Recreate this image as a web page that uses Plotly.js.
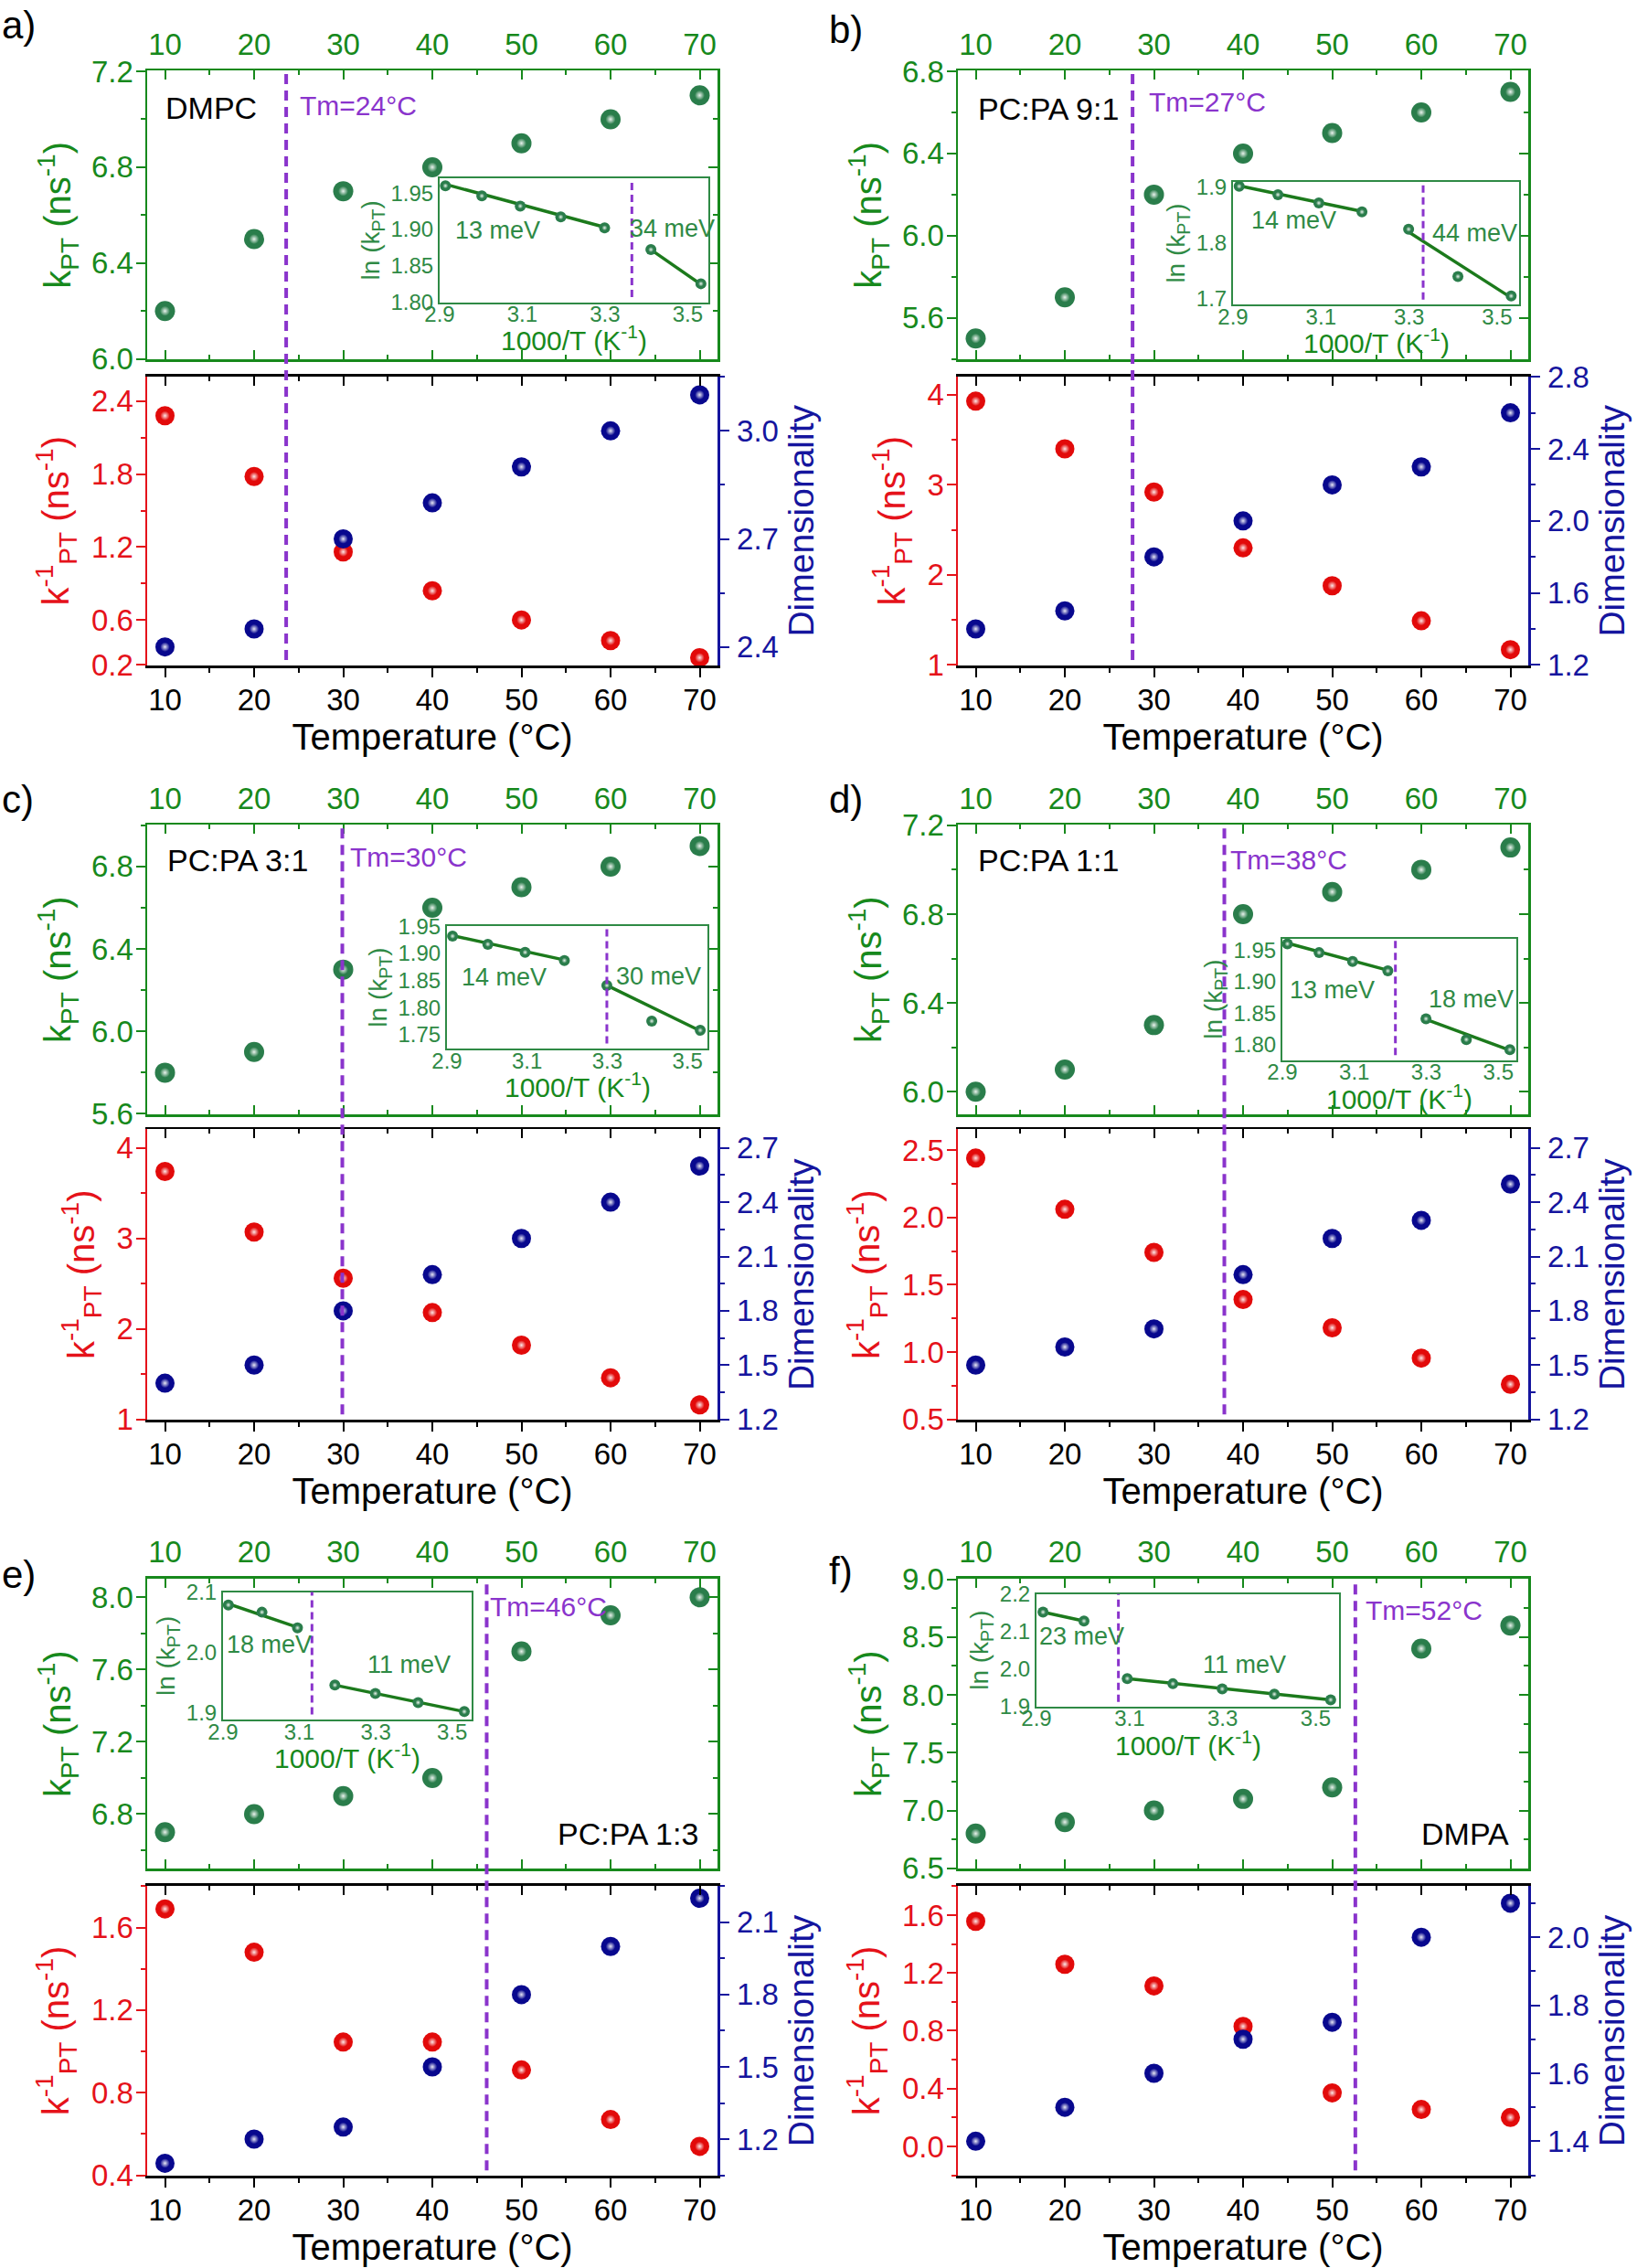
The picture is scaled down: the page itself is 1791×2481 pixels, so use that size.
<!DOCTYPE html>
<html><head><meta charset="utf-8">
<script src="https://cdn.plot.ly/plotly-3.0.1.min.js"></script>
<style>html,body{margin:0;padding:0;background:#fff}</style>
</head><body>
<div id="chart" style="width:1791px;height:2481px"></div>
<script>
// ---------------- DATA ----------------
const temperature = [10, 20, 30, 40, 50, 60, 70];
const panelLetters = ['a)', 'b)', 'c)', 'd)', 'e)', 'f)'];
const sampleNames = ['DMPC', 'PC:PA 9:1', 'PC:PA 3:1', 'PC:PA 1:1', 'PC:PA 1:3', 'DMPA'];
const tmValues = [24, 27, 30, 38, 46, 52];
const tmLineX = [23.6, 27.6, 29.9, 37.9, 46.1, 52.6];

const kptA = [6.2, 6.5, 6.7, 6.8, 6.9, 7.0, 7.1];
const kptB = [5.5, 5.7, 6.2, 6.4, 6.5, 6.6, 6.7];
const kptC = [5.8, 5.9, 6.3, 6.6, 6.7, 6.8, 6.9];
const kptD = [6.0, 6.1, 6.3, 6.8, 6.9, 7.0, 7.1];
const kptE = [6.7, 6.8, 6.9, 7.0, 7.7, 7.9, 8.0];
const kptF = [6.8, 6.9, 7.0, 7.1, 7.2, 8.4, 8.6];

const kinvA = [2.28, 1.78, 1.16, 0.84, 0.60, 0.43, 0.29];
const kinvB = [3.93, 3.40, 2.92, 2.30, 1.88, 1.49, 1.17];
const kinvC = [3.74, 3.07, 2.56, 2.18, 1.82, 1.46, 1.16];
const kinvD = [2.44, 2.06, 1.74, 1.39, 1.18, 0.955, 0.76];
const kinvE = [1.69, 1.48, 1.045, 1.045, 0.91, 0.67, 0.54];
const kinvF = [1.557, 1.26, 1.11, 0.83, 0.37, 0.255, 0.20];

const dimA = [2.40, 2.45, 2.70, 2.80, 2.90, 3.00, 3.10];
const dimB = [1.40, 1.50, 1.80, 2.00, 2.20, 2.30, 2.60];
const dimC = [1.40, 1.50, 1.80, 2.00, 2.20, 2.40, 2.60];
const dimD = [1.50, 1.60, 1.70, 2.00, 2.20, 2.30, 2.50];
const dimE = [1.10, 1.20, 1.25, 1.50, 1.80, 2.00, 2.20];
const dimF = [1.40, 1.50, 1.60, 1.70, 1.75, 2.00, 2.10];

// inset: 1000/T (K^-1) and ln(kPT)
const invT = [3.532, 3.411, 3.299, 3.193, 3.095, 3.002, 2.914];
const lnkA = [1.825, 1.872, 1.902, 1.917, 1.932, 1.946, 1.960];
const lnkB = [1.705, 1.740, 1.825, 1.856, 1.872, 1.887, 1.902];
const lnkC = [1.758, 1.775, 1.841, 1.887, 1.902, 1.917, 1.932];
const lnkD = [1.792, 1.808, 1.841, 1.917, 1.932, 1.946, 1.960];
const lnkE = [1.902, 1.917, 1.932, 1.946, 2.041, 2.067, 2.079];
const lnkF = [1.917, 1.932, 1.946, 1.960, 1.974, 2.128, 2.152];
const tmInset = [3.365, 3.332, 3.299, 3.214, 3.133, 3.076];

// Arrhenius fit segments (warm = above Tm, cold = below Tm)
const fitWarmX = [[2.914, 3.299], [2.914, 3.193], [2.914, 3.193], [2.914, 3.193], [2.914, 3.095], [2.914, 3.002]];
const fitWarmY = [[1.962, 1.903], [1.903, 1.857], [1.933, 1.888], [1.961, 1.918], [2.081, 2.042], [2.152, 2.128]];
const fitColdX = [[3.411, 3.532], [3.299, 3.532], [3.299, 3.532], [3.299, 3.532], [3.193, 3.532], [3.095, 3.532]];
const fitColdY = [[1.872, 1.824], [1.820, 1.702], [1.841, 1.757], [1.840, 1.791], [1.946, 1.902], [1.974, 1.917]];
const energyWarm = ['13 meV', '14 meV', '14 meV', '13 meV', '18 meV', '23 meV'];
const energyCold = ['34 meV', '44 meV', '30 meV', '18 meV', '11 meV', '11 meV'];

const kptAll = [kptA, kptB, kptC, kptD, kptE, kptF];
const kinvAll = [kinvA, kinvB, kinvC, kinvD, kinvE, kinvF];
const dimAll = [dimA, dimB, dimC, dimD, dimE, dimF];
const lnkAll = [lnkA, lnkB, lnkC, lnkD, lnkE, lnkF];

// axis ranges / ticks
const topRanges = [[6.0, 7.2], [5.4, 6.8], [5.6, 7.0], [5.9, 7.2], [6.5, 8.1], [6.5, 9.0]];
const topDtick = [0.4, 0.4, 0.4, 0.4, 0.4, 0.5];
const botRanges = [[0.23, 2.6], [1, 4.2], [1, 4.2], [0.5, 2.65], [0.4, 1.8], [-0.2, 1.8]];
const botDtick = [0.6, 1, 1, 0.5, 0.4, 0.4];
const botFormat = ['.1f', 'd', 'd', '.1f', '.1f', '.1f'];
const botTickValsA = [0.23, 0.6, 1.2, 1.8, 2.4];
const botTickTextA = ['0.2', '0.6', '1.2', '1.8', '2.4'];
const dimRanges = [[2.35, 3.15], [1.2, 2.8], [1.2, 2.8], [1.2, 2.8], [1.05, 2.25], [1.3, 2.15]];
const dimDtick = [0.3, 0.4, 0.3, 0.3, 0.3, 0.2];
const insetXRange = [2.9, 3.55];
const insetYRanges = [[1.80, 1.97], [1.69, 1.91], [1.725, 1.95], [1.776, 1.968], [1.889, 2.1], [1.9, 2.2]];
const insetYDtick = [0.05, 0.1, 0.05, 0.05, 0.1, 0.1];
const insetYFormat = ['.2f', '.1f', '.2f', '.2f', '.1f', '.1f'];

// ---------------- GEOMETRY (px) ----------------
const W = 1791, H = 2481;
const cols = [[161, 785], [1048, 1672]];
const rows = [[77.4, 393.3, 411.6, 728], [902.2, 1219.1, 1235.3, 1553.3], [1726.9, 2044.4, 2062.7, 2380.2]];
const insetBox = [[481, 775, 195, 330.5], [1349, 1662, 198.7, 333.2], [489, 774, 1013.1, 1146.9],
                  [1403, 1659, 1026.7, 1159.5], [244, 515.5, 1741.6, 1881.2], [1134, 1465, 1743.7, 1866.6]];
const letterPos = [[0, 28], [905, 32], [0, 874], [905, 874], [0, 1722], [905, 1718]];
const namePos = [[179, 118, 'left'], [1068, 119, 'left'], [181, 941, 'left'], [1068, 941, 'left'], [766, 2006, 'right'], [1653, 2006, 'right']];
const tmPos = [[326, 115], [1255, 112], [381, 937], [1344, 940], [534, 1757], [1492, 1761]];
const eWarmPos = [[496, 252], [1367, 241], [503, 1069], [1409, 1083], [246, 1799], [1135, 1790]];
const eColdPos = [[687, 250], [1565, 255], [672, 1068], [1561, 1093], [400, 1821], [1314, 1821]];

const px = v => v / W, py = v => 1 - v / H;

const FONT = 'Liberation Sans, Arial, sans-serif';
const GREEN = '#17891c', RED = '#e5121a', BLUE = '#15159e', PURPLE = '#8a34cc', IGREEN = '#2f8a45';

function pad(r) { const e = (r[1] - r[0]) * 0.002; return [r[0] - e, r[1] + e]; }

const data = [], shapes = [], annotations = [];
const layout = {
  width: W, height: H, margin: {l: 0, r: 0, t: 0, b: 0},
  paper_bgcolor: '#fff', plot_bgcolor: 'rgba(0,0,0,0)', showlegend: false,
  font: {family: FONT, size: 30, color: '#000'}
};

function minorOf(d, color, ticks, len) {
  return {dtick: d, ticks: ticks, ticklen: len || 5, tickwidth: 2, tickcolor: color};
}
// sphere-like markers: solid ball + soft specular highlight on the same points
function balls(x, y, xa, ya, size, color) {
  data.push({type: 'scatter', mode: 'markers', x: x, y: y, xaxis: xa, yaxis: ya,
    marker: {size: size, color: color, line: {width: 0}}, cliponaxis: false});
  data.push({type: 'scatter', mode: 'markers', x: x, y: y, xaxis: xa, yaxis: ya,
    marker: {size: size * 0.5, color: 'rgba(255,255,255,0)',
             gradient: {type: 'radial', color: 'rgba(255,255,255,0.9)'}, line: {width: 0}},
    cliponaxis: false, hoverinfo: 'skip'});
}

for (let i = 0; i < 6; i++) {
  const c = cols[i % 2], r = rows[Math.floor(i / 2)];
  const xi = i * 4, yi = i * 5;
  const xTop = 'x' + (xi + 1), xBot = 'x' + (xi + 2), xIn = 'x' + (xi + 3), xBotT = 'x' + (xi + 4);
  const yTop = 'y' + (yi + 1), yBot = 'y' + (yi + 2), yDim = 'y' + (yi + 3), yIn = 'y' + (yi + 4), yTopR = 'y' + (yi + 5);
  const ax = n => n === 'x1' ? 'xaxis' : 'xaxis' + n.slice(1);
  const ay = n => n === 'y1' ? 'yaxis' : 'yaxis' + n.slice(1);
  const xd = [px(c[0]), px(c[1])];

  // ---- top subplot (green) ----
  layout[ax(xTop)] = {
    domain: xd, anchor: yTop, side: 'top', range: [8, 72], dtick: 10, tick0: 0,
    ticks: 'inside', ticklen: 10, tickwidth: 2, tickcolor: GREEN,
    minor: minorOf(5, GREEN, 'inside'),
    showline: true, linecolor: GREEN, linewidth: 2.5, mirror: 'ticks',
    tickfont: {size: 33, color: GREEN, family: FONT}, ticklabelstandoff: 2,
    showgrid: false, zeroline: false
  };
  layout[ay(yTop)] = {
    domain: [py(r[1]), py(r[0])], anchor: xTop, range: pad(topRanges[i]), dtick: topDtick[i], tick0: 0,
    tickformat: '.1f', ticks: 'outside', ticklen: 10, tickwidth: 2, tickcolor: GREEN,
    minor: minorOf(topDtick[i] / 2, GREEN, 'outside'),
    showline: true, linecolor: GREEN, linewidth: 2.5, mirror: false,
    tickfont: {size: 33, color: GREEN, family: FONT}, ticklabelstandoff: -4,
    title: {text: 'k<sub>PT</sub> (ns<sup>-1</sup>)', font: {size: 40, color: GREEN, family: FONT}, standoff: 10},
    showgrid: false, zeroline: false
  };
  layout[ay(yTopR)] = {
    overlaying: yTop, side: 'right', anchor: xTop, range: pad(topRanges[i]), dtick: topDtick[i], tick0: 0,
    ticks: 'inside', ticklen: 10, tickwidth: 2, tickcolor: GREEN, showticklabels: false,
    minor: minorOf(topDtick[i] / 2, GREEN, 'inside'),
    showline: true, linecolor: GREEN, linewidth: 2.5, showgrid: false, zeroline: false
  };
  // ---- bottom subplot (red / blue) ----
  layout[ax(xBot)] = {
    domain: xd, anchor: yBot, range: [8, 72], dtick: 10, tick0: 0,
    ticks: 'outside', ticklen: 10, tickwidth: 2, tickcolor: '#000',
    minor: minorOf(5, '#000', 'outside'),
    showline: true, linecolor: '#000', linewidth: 2.5, mirror: false,
    tickfont: {size: 33, color: '#000', family: FONT}, ticklabelstandoff: -3,
    title: {text: 'Temperature (°C)', font: {size: 40, color: '#000', family: FONT}, standoff: 3},
    showgrid: false, zeroline: false
  };
  layout[ax(xBotT)] = {
    overlaying: xBot, side: 'top', anchor: yBot, range: [8, 72], dtick: 10, tick0: 0,
    ticks: 'inside', ticklen: 10, tickwidth: 2, tickcolor: '#000', showticklabels: false,
    minor: minorOf(5, '#000', 'inside'),
    showline: true, linecolor: '#000', linewidth: 2.5, showgrid: false, zeroline: false
  };
  const yb = {
    domain: [py(r[3]), py(r[2])], anchor: xBot, range: pad(botRanges[i]),
    ticks: 'outside', ticklen: 10, tickwidth: 2, tickcolor: RED,
    showline: true, linecolor: RED, linewidth: 2.5, mirror: false,
    tickfont: {size: 33, color: RED, family: FONT}, ticklabelstandoff: -4,
    title: {text: 'k<sup>-1</sup><sub>PT</sub> (ns<sup>-1</sup>)', font: {size: 40, color: RED, family: FONT}, standoff: 12},
    showgrid: false, zeroline: false
  };
  if (i === 0) {
    yb.tickmode = 'array'; yb.tickvals = botTickValsA; yb.ticktext = botTickTextA;
    yb.minor = {tickmode: 'array', tickvals: [0.9, 1.5, 2.1], ticks: 'outside', ticklen: 5, tickwidth: 2, tickcolor: RED};
  } else {
    yb.dtick = botDtick[i]; yb.tick0 = 0; yb.tickformat = botFormat[i];
    yb.minor = minorOf(botDtick[i] / 2, RED, 'outside');
  }
  layout[ay(yBot)] = yb;
  layout[ay(yDim)] = {
    overlaying: yBot, side: 'right', anchor: xBot, range: pad(dimRanges[i]), dtick: dimDtick[i], tick0: 0,
    tickformat: '.1f', ticks: 'outside', ticklen: 10, tickwidth: 2, tickcolor: BLUE,
    minor: minorOf(dimDtick[i] / 2, BLUE, 'outside'),
    showline: true, linecolor: BLUE, linewidth: 2.5,
    tickfont: {size: 33, color: BLUE, family: FONT}, ticklabelstandoff: 2,
    title: {text: 'Dimensionality', font: {size: 39, color: BLUE, family: FONT}, standoff: 12},
    showgrid: false, zeroline: false
  };
  // ---- inset (Arrhenius plot) ----
  const ib = insetBox[i];
  layout[ax(xIn)] = {
    domain: [px(ib[0]), px(ib[1])], anchor: yIn, range: insetXRange, dtick: 0.2, tick0: 2.9, tickformat: '.1f',
    ticks: '', showline: true, linecolor: IGREEN, linewidth: 2, mirror: true,
    tickfont: {size: 24, color: IGREEN, family: FONT}, ticklabelstandoff: -9,
    showgrid: false, zeroline: false
  };
  layout[ay(yIn)] = {
    domain: [py(ib[3]), py(ib[2])], anchor: xIn, range: pad(insetYRanges[i]), dtick: insetYDtick[i], tick0: 0,
    tickformat: insetYFormat[i], ticks: '', showline: true, linecolor: IGREEN, linewidth: 2, mirror: true,
    tickfont: {size: 24, color: IGREEN, family: FONT}, ticklabelstandoff: 0,
    title: {text: 'ln (k<sub>PT</sub>)', font: {size: 28, color: IGREEN, family: FONT}, standoff: 4},
    showgrid: false, zeroline: false
  };
  annotations.push({xref: xIn + ' domain', yref: yIn + ' domain', x: 0.5, y: 0, yshift: -40,
    xanchor: 'center', yanchor: 'middle', text: '1000/T (K<sup>-1</sup>)', showarrow: false,
    font: {size: 30, color: GREEN, family: FONT}});

  // ---- traces ----
  balls(temperature, kptAll[i], xTop, yTop, 22, '#2a7d4b');
  balls(temperature, kinvAll[i], xBot, yBot, 21, '#e20a0a');
  balls(temperature, dimAll[i], xBot, yDim, 21, '#08088e');
  data.push({type: 'scatter', mode: 'lines', x: fitWarmX[i], y: fitWarmY[i], xaxis: xIn, yaxis: yIn,
    line: {color: '#1c7a1c', width: 3.5}, cliponaxis: false});
  data.push({type: 'scatter', mode: 'lines', x: fitColdX[i], y: fitColdY[i], xaxis: xIn, yaxis: yIn,
    line: {color: '#1c7a1c', width: 3.5}, cliponaxis: false});
  balls(invT, lnkAll[i], xIn, yIn, 12, '#2a7d4b');
  // empty traces so the frame-only axes are registered
  data.push({type: 'scatter', mode: 'markers', x: [], y: [], xaxis: xTop, yaxis: yTopR, hoverinfo: 'skip'});
  data.push({type: 'scatter', mode: 'markers', x: [], y: [], xaxis: xBotT, yaxis: yBot, hoverinfo: 'skip'});

  // Tm dashed line across both subplots
  shapes.push({type: 'line', xref: xTop, yref: 'paper', x0: tmLineX[i], x1: tmLineX[i],
    y0: py(r[3] - 6), y1: py(r[0] + 1), line: {color: PURPLE, width: 4, dash: '11px,7px'}});
  shapes.push({type: 'line', xref: xIn, yref: yIn + ' domain', x0: tmInset[i], x1: tmInset[i],
    y0: 0.04, y1: 1, line: {color: PURPLE, width: 3, dash: '8px,5px'}});

  // text labels
  annotations.push({xref: 'paper', yref: 'paper', x: px(letterPos[i][0]), y: py(letterPos[i][1]),
    xanchor: 'left', yanchor: 'middle', text: panelLetters[i], showarrow: false,
    font: {size: 42, color: '#000', family: FONT}});
  annotations.push({xref: 'paper', yref: 'paper', x: px(namePos[i][0]), y: py(namePos[i][1]),
    xanchor: namePos[i][2], yanchor: 'middle', text: sampleNames[i], showarrow: false,
    font: {size: 34, color: '#000', family: FONT}});
  annotations.push({xref: 'paper', yref: 'paper', x: px(tmPos[i][0]), y: py(tmPos[i][1]),
    xanchor: 'left', yanchor: 'middle', text: 'Tm=' + tmValues[i] + '°C', showarrow: false,
    font: {size: 30, color: PURPLE, family: FONT}});
  annotations.push({xref: 'paper', yref: 'paper', x: px(eWarmPos[i][0]), y: py(eWarmPos[i][1]),
    xanchor: 'left', yanchor: 'middle', text: energyWarm[i], showarrow: false,
    font: {size: 27, color: IGREEN, family: FONT}});
  annotations.push({xref: 'paper', yref: 'paper', x: px(eColdPos[i][0]), y: py(eColdPos[i][1]),
    xanchor: 'left', yanchor: 'middle', text: energyCold[i], showarrow: false,
    font: {size: 27, color: IGREEN, family: FONT}});
}
layout.shapes = shapes;
layout.annotations = annotations;

Plotly.newPlot('chart', data, layout, {staticPlot: true, displayModeBar: false});
</script>
</body></html>
